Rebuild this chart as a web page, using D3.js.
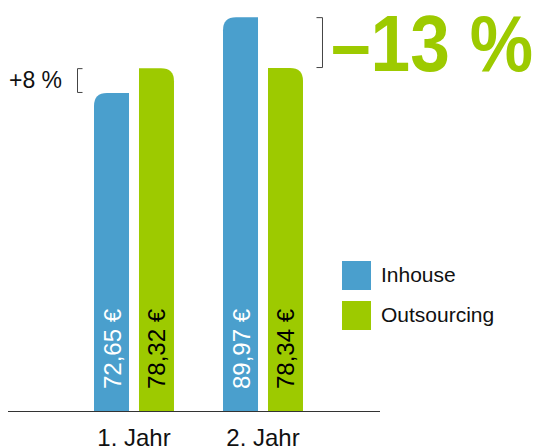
<!DOCTYPE html>
<html>
<head>
<meta charset="utf-8">
<script src="https://cdn.jsdelivr.net/npm/d3@7"></script>
<style>
  body { margin: 0; background: #fff; }
  svg { display: block; font-family: "Liberation Sans", Arial, Helvetica, sans-serif; }
</style>
</head>
<body>
<div id="chart"></div>
<script>
const years = ["1. Jahr", "2. Jahr"];
const series = ["Inhouse", "Outsourcing"];
const inhouse = [72.65, 89.97];
const outsourcing = [78.32, 78.34];
const valueLabels = [["72,65 €", "78,32 €"], ["89,97 €", "78,34 €"]];
const diffLabels = ["+8 %", "–13 %"];

const colors = { Inhouse: "#4a9fcd", Outsourcing: "#9dca00" };
const labelColors = { Inhouse: "#fff", Outsourcing: "#000" };

const width = 536, height = 448;
const base = 411;

const data = years.map((year, i) => ({
  year,
  values: [
    { key: "Inhouse", value: inhouse[i], label: valueLabels[i][0] },
    { key: "Outsourcing", value: outsourcing[i], label: valueLabels[i][1] }
  ]
}));

const svg = d3.select("#chart")
  .append("svg")
  .attr("width", width)
  .attr("height", height);

const x0 = d3.scaleBand()
  .domain(years)
  .range([29.5, 367.5])
  .paddingInner(0.38)
  .paddingOuter(0.5);

const x1 = d3.scaleBand()
  .domain(series)
  .range([0, x0.bandwidth()])
  .paddingInner(0.222);

const y = d3.scaleLinear()
  .domain([0, 90])
  .range([base, 17]);

// bar with one rounded top corner (outer side)
function barPath(x, top, w, bottom, leftRound) {
  const r = Math.min(13, w / 2, bottom - top);
  if (leftRound) {
    return `M${x},${bottom}V${top + r}Q${x},${top} ${x + r},${top}H${x + w}V${bottom}Z`;
  }
  return `M${x},${bottom}V${top}H${x + w - r}Q${x + w},${top} ${x + w},${top + r}V${bottom}Z`;
}

const groups = svg.append("g")
  .selectAll("g")
  .data(data)
  .join("g")
  .attr("transform", d => `translate(${x0(d.year)},0)`);

groups.selectAll("path")
  .data(d => d.values)
  .join("path")
  .attr("d", d => barPath(x1(d.key), y(d.value), x1.bandwidth(), base, d.key === "Inhouse"))
  .attr("fill", d => colors[d.key]);

groups.selectAll("text.val")
  .data(d => d.values)
  .join("text")
  .attr("class", "val")
  .attr("transform", d => `translate(${x1(d.key) + x1.bandwidth() / 2 + 9},${base - 22}) rotate(-90)`)
  .attr("fill", d => labelColors[d.key])
  .style("font-size", "24px")
  .text(d => d.label);

// baseline
svg.append("line")
  .attr("x1", 8).attr("x2", 380)
  .attr("y1", base + 0.5).attr("y2", base + 0.5)
  .attr("stroke", "#333")
  .attr("stroke-width", 1);

// x labels
svg.append("g")
  .selectAll("text")
  .data(years)
  .join("text")
  .attr("x", d => x0(d) + x0.bandwidth() / 2)
  .attr("y", 446)
  .attr("text-anchor", "middle")
  .attr("fill", "#111")
  .style("font-size", "24px")
  .text(d => d);

// brackets
const d1 = data[0], d2 = data[1];
const b1x = x0(d1.year) - 17;
const b1top = y(d1.values[1].value), b1bot = y(d1.values[0].value);
svg.append("path")
  .attr("d", `M${b1x + 5.5},${b1top + 0.5}H${b1x + 0.5}V${b1bot - 0.5}H${b1x + 5.5}`)
  .attr("fill", "none")
  .attr("stroke", "#444")
  .attr("stroke-width", 1);

const b2x = x0(d2.year) + x0.bandwidth() + 20;
const b2top = y(d2.values[0].value), b2bot = y(d2.values[1].value);
svg.append("path")
  .attr("d", `M${b2x - 6.5},${b2top + 0.5}H${b2x - 0.5}V${b2bot - 0.5}H${b2x - 6.5}`)
  .attr("fill", "none")
  .attr("stroke", "#444")
  .attr("stroke-width", 1);

svg.append("text")
  .attr("x", 9)
  .attr("y", 88)
  .attr("fill", "#111")
  .style("font-size", "23px")
  .text(diffLabels[0]);

svg.append("text")
  .attr("x", 331)
  .attr("y", 71)
  .attr("fill", colors.Outsourcing)
  .attr("textLength", 202)
  .attr("lengthAdjust", "spacingAndGlyphs")
  .style("font-size", "79px")
  .style("font-weight", "bold")
  .text(diffLabels[1]);

// legend
const legend = svg.append("g")
  .selectAll("g")
  .data(series)
  .join("g")
  .attr("transform", (d, i) => `translate(342,${261 + i * 40})`);

legend.append("rect")
  .attr("width", 29)
  .attr("height", 29)
  .attr("fill", d => colors[d]);

legend.append("text")
  .attr("x", 39)
  .attr("y", 21)
  .attr("fill", "#111")
  .style("font-size", "21px")
  .text(d => d);
</script>
</body>
</html>
